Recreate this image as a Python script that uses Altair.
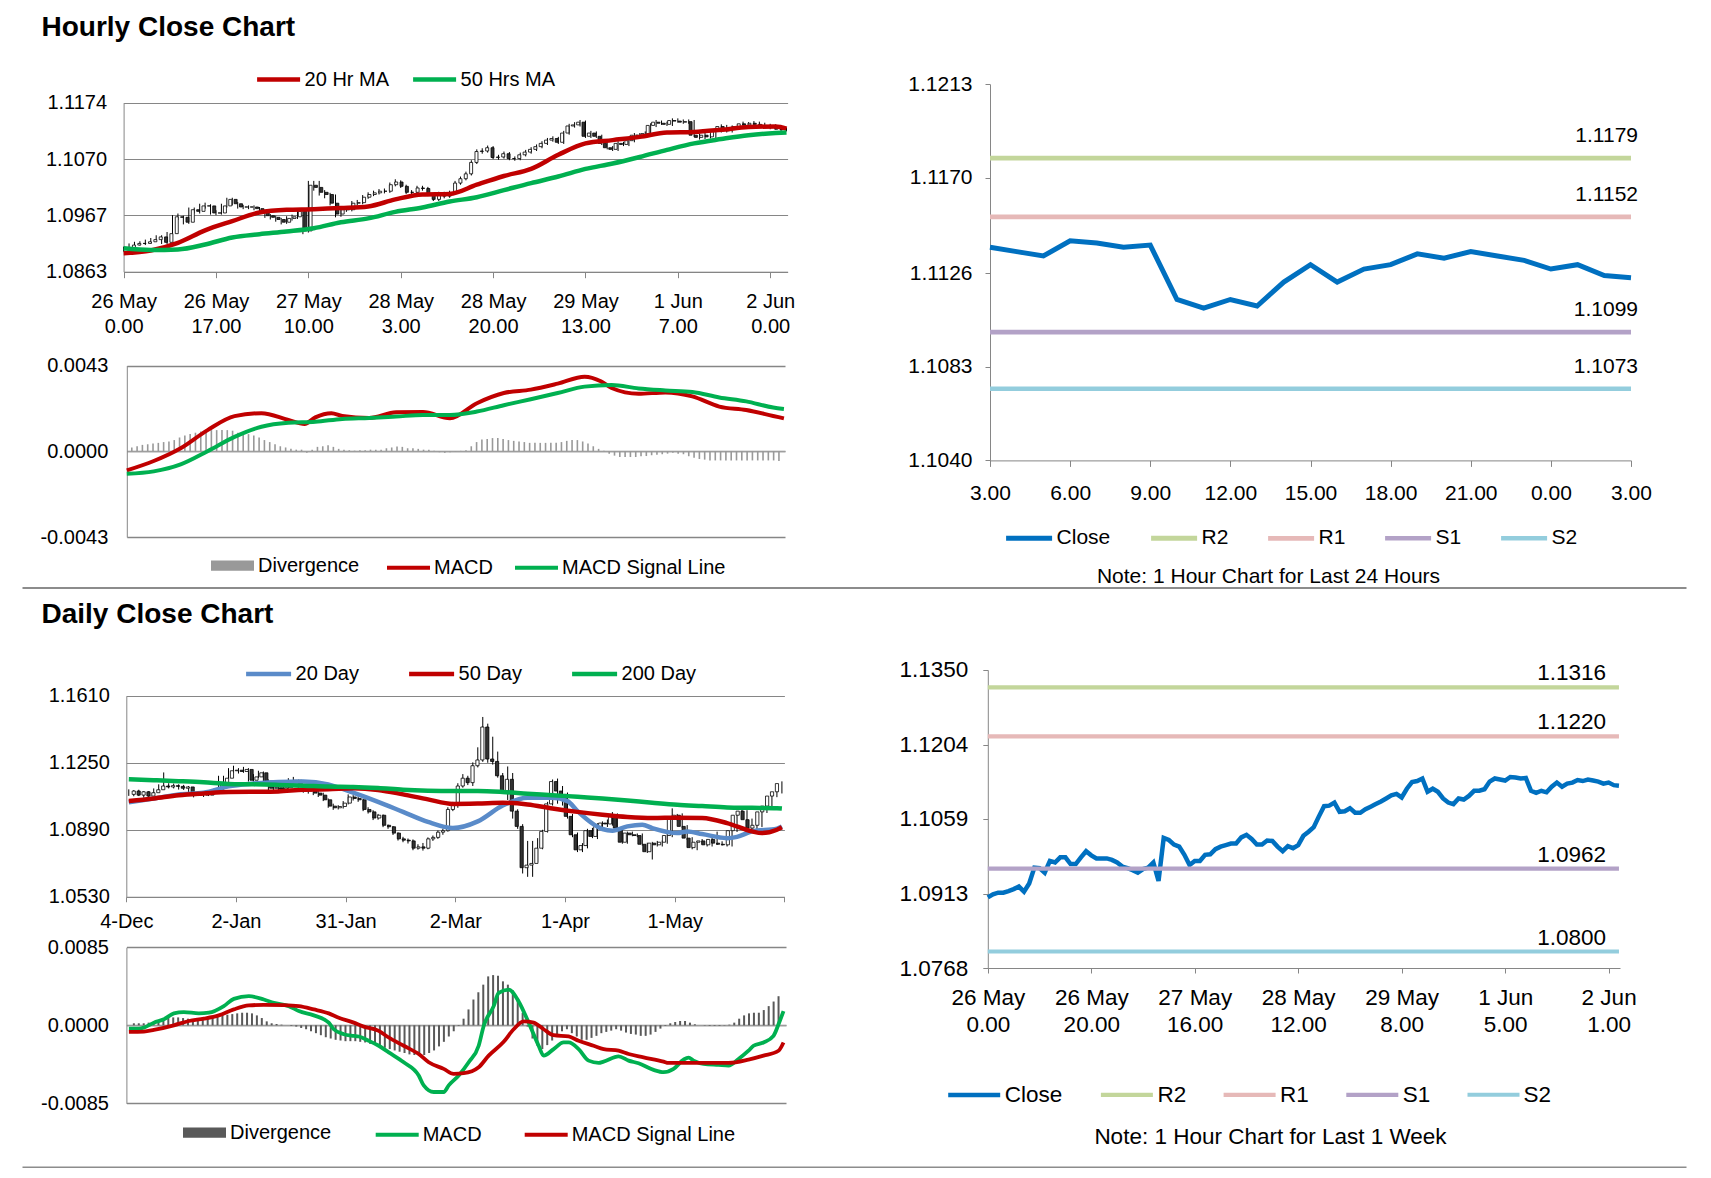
import json
import pandas as pd
import altair as alt

W, H = 1695, 1160
FONT = "Liberation Sans"
GRAY = "#868686"
RED = "#C00000"
GREEN = "#00B050"
BLUE20 = "#5A8BC9"
CLOSE_BLUE = "#0070C0"
LEVEL_COLORS = ["#C3D69B", "#E6B9B8", "#B3A2C7", "#93CDDD"]

# ---------------- hourly data (26 May 0.00 .. 2 Jun 3.00) ----------------
hourly_close = [1.0906, 1.0912, 1.0915, 1.0915, 1.0918, 1.0922, 1.0927, 1.0917, 1.0933, 1.0964,
 1.0963, 1.0954, 1.0977, 1.0974, 1.0984, 1.0984, 1.0971, 1.0971, 1.0984, 1.0996,
 1.0988, 1.0982, 1.0982, 1.0982, 1.0979, 1.0974, 1.0966, 1.0963, 1.0959, 1.0954,
 1.0961, 1.0964, 1.0974, 1.0938, 1.1022, 1.1018, 1.1009, 1.1005, 1.0989, 1.0969,
 1.0977, 1.0977, 1.0989, 1.0990, 1.1000, 1.1005, 1.1008, 1.1011, 1.1011, 1.1023,
 1.1028, 1.1020, 1.1009, 1.1009, 1.1017, 1.1016, 1.1005, 1.0996, 1.1006, 1.1002,
 1.1008, 1.1026, 1.1034, 1.1043, 1.1064, 1.1084, 1.1085, 1.1091, 1.1073, 1.1074,
 1.1080, 1.1071, 1.1071, 1.1078, 1.1083, 1.1088, 1.1093, 1.1099, 1.1105, 1.1108,
 1.1101, 1.1118, 1.1131, 1.1133, 1.1138, 1.1112, 1.1118, 1.1112, 1.1099, 1.1091,
 1.1088, 1.1099, 1.1097, 1.1104, 1.1114, 1.1114, 1.1117, 1.1132, 1.1138, 1.1136,
 1.1134, 1.1141, 1.1140, 1.1138, 1.1139, 1.1114, 1.1110, 1.1114, 1.1111, 1.1122,
 1.1130, 1.1122, 1.1128, 1.1130, 1.1135, 1.1133, 1.1136, 1.1134, 1.1132, 1.1128,
 1.1130, 1.1125, 1.1124]
hourly_open = [1.0903, 1.0906, 1.0912, 1.0915, 1.0915, 1.0918, 1.0922, 1.0927, 1.0917, 1.0933,
 1.0964, 1.0963, 1.0954, 1.0977, 1.0974, 1.0984, 1.0984, 1.0971, 1.0971, 1.0984,
 1.0996, 1.0988, 1.0982, 1.0982, 1.0982, 1.0979, 1.0974, 1.0966, 1.0963, 1.0959,
 1.0954, 1.0961, 1.0964, 1.0974, 1.0938, 1.1022, 1.1018, 1.1009, 1.1005, 1.0989,
 1.0969, 1.0977, 1.0977, 1.0989, 1.0990, 1.1000, 1.1005, 1.1008, 1.1011, 1.1011,
 1.1023, 1.1028, 1.1020, 1.1009, 1.1009, 1.1017, 1.1016, 1.1005, 1.0996, 1.1006,
 1.1002, 1.1008, 1.1026, 1.1034, 1.1043, 1.1064, 1.1084, 1.1085, 1.1091, 1.1073,
 1.1074, 1.1080, 1.1071, 1.1071, 1.1078, 1.1083, 1.1088, 1.1093, 1.1099, 1.1105,
 1.1108, 1.1101, 1.1118, 1.1131, 1.1133, 1.1138, 1.1112, 1.1118, 1.1112, 1.1099,
 1.1091, 1.1088, 1.1099, 1.1097, 1.1104, 1.1114, 1.1114, 1.1117, 1.1132, 1.1138,
 1.1136, 1.1134, 1.1141, 1.1140, 1.1138, 1.1139, 1.1114, 1.1110, 1.1114, 1.1111,
 1.1122, 1.1130, 1.1122, 1.1128, 1.1130, 1.1135, 1.1133, 1.1136, 1.1134, 1.1132,
 1.1128, 1.1130, 1.1125]
hourly_high = [1.0909, 1.0915, 1.0918, 1.0919, 1.0922, 1.0925, 1.0930, 1.0930, 1.0936, 1.0967,
 1.0970, 1.0966, 1.0981, 1.0981, 1.0988, 1.0990, 1.0987, 1.0976, 1.0988, 1.0999,
 1.0999, 1.0991, 1.0986, 1.0985, 1.0985, 1.0982, 1.0977, 1.0969, 1.0966, 1.0962,
 1.0965, 1.0968, 1.0978, 1.0977, 1.1030, 1.1030, 1.1030, 1.1013, 1.1008, 1.1005,
 1.0981, 1.0982, 1.0993, 1.0995, 1.1004, 1.1009, 1.1012, 1.1015, 1.1016, 1.1027,
 1.1033, 1.1031, 1.1023, 1.1013, 1.1021, 1.1021, 1.1019, 1.1008, 1.1010, 1.1010,
 1.1012, 1.1030, 1.1038, 1.1047, 1.1068, 1.1088, 1.1090, 1.1095, 1.1094, 1.1078,
 1.1084, 1.1083, 1.1075, 1.1082, 1.1087, 1.1092, 1.1097, 1.1103, 1.1109, 1.1112,
 1.1111, 1.1122, 1.1135, 1.1138, 1.1142, 1.1141, 1.1122, 1.1121, 1.1115, 1.1102,
 1.1094, 1.1103, 1.1102, 1.1108, 1.1118, 1.1118, 1.1121, 1.1136, 1.1142, 1.1141,
 1.1139, 1.1145, 1.1145, 1.1143, 1.1143, 1.1142, 1.1117, 1.1118, 1.1117, 1.1126,
 1.1134, 1.1133, 1.1132, 1.1134, 1.1139, 1.1138, 1.1140, 1.1139, 1.1137, 1.1135,
 1.1134, 1.1133, 1.1128]
hourly_low = [1.0900, 1.0903, 1.0909, 1.0911, 1.0912, 1.0915, 1.0919, 1.0914, 1.0914, 1.0930,
 1.0958, 1.0950, 1.0951, 1.0970, 1.0970, 1.0979, 1.0968, 1.0967, 1.0968, 1.0981,
 1.0985, 1.0979, 1.0978, 1.0978, 1.0976, 1.0971, 1.0962, 1.0959, 1.0955, 1.0950,
 1.0951, 1.0957, 1.0960, 1.0932, 1.0935, 1.1012, 1.1003, 1.0998, 1.0985, 1.0963,
 1.0964, 1.0973, 1.0974, 1.0985, 1.0987, 1.0997, 1.1002, 1.1005, 1.1007, 1.1008,
 1.1020, 1.1017, 1.1006, 1.1005, 1.1006, 1.1012, 1.1002, 1.0993, 1.0993, 1.0998,
 1.0999, 1.1005, 1.1023, 1.1031, 1.1040, 1.1061, 1.1080, 1.1082, 1.1070, 1.1069,
 1.1071, 1.1068, 1.1067, 1.1068, 1.1075, 1.1080, 1.1085, 1.1090, 1.1096, 1.1102,
 1.1098, 1.1098, 1.1115, 1.1128, 1.1130, 1.1109, 1.1109, 1.1109, 1.1096, 1.1088,
 1.1085, 1.1085, 1.1094, 1.1094, 1.1101, 1.1110, 1.1111, 1.1114, 1.1129, 1.1133,
 1.1131, 1.1131, 1.1137, 1.1135, 1.1135, 1.1111, 1.1106, 1.1107, 1.1108, 1.1108,
 1.1119, 1.1119, 1.1119, 1.1125, 1.1127, 1.1130, 1.1130, 1.1131, 1.1129, 1.1125,
 1.1125, 1.1122, 1.1121]

ma_hr_idx = [0, 5, 10, 15, 20, 25, 30, 35, 40, 45, 50, 55, 60, 65, 70, 75, 80, 85, 90, 95,
             100, 105, 110, 115, 120, 122]
ma20_hr = [1.0897, 1.0902, 1.0916, 1.0939, 1.0956, 1.0972, 1.0977, 1.0978, 1.0980, 1.0983,
           1.0996, 1.1005, 1.1006, 1.1023, 1.1039, 1.1052, 1.1078, 1.1099, 1.1105, 1.1111,
           1.1119, 1.1120, 1.1124, 1.1129, 1.1130, 1.1126]
ma50_hr = [1.0906, 1.0903, 1.0904, 1.0913, 1.0926, 1.0932, 1.0937, 1.0943, 1.0954, 1.0961,
           1.0973, 1.0981, 1.0992, 1.1000, 1.1013, 1.1026, 1.1038, 1.1052, 1.1062, 1.1074,
           1.1087, 1.1099, 1.1107, 1.1114, 1.1118, 1.1119]

macd_hr_idx = [0, 5, 10, 15, 20, 25, 30, 33, 35, 38, 40, 45, 50, 55, 60, 65, 70, 75, 80, 85,
               88, 90, 95, 100, 105, 110, 115, 120, 122]
macd_hr = [-0.00096, -0.00049, 0.00015, 0.00106, 0.00176, 0.00191, 0.00157, 0.00137, 0.00170, 0.00191,
           0.00177, 0.00167, 0.00196, 0.00197, 0.00165, 0.00241, 0.00292, 0.00309, 0.00339, 0.00374,
           0.00351, 0.00317, 0.00288, 0.00295, 0.00275, 0.00224, 0.00207, 0.00177, 0.00165]
signal_hr_idx = [0, 5, 10, 15, 20, 25, 30, 35, 40, 45, 50, 55, 60, 65, 70, 75, 80, 85, 90, 95,
                 100, 105, 110, 115, 120, 122]
signal_hr = [-0.00113, -0.00101, -0.00066, 0.0, 0.00072, 0.00123, 0.00143, 0.00148, 0.00162, 0.00167,
             0.00174, 0.00182, 0.00182, 0.00199, 0.00231, 0.00261, 0.00292, 0.00324, 0.00332, 0.00315,
             0.00305, 0.00297, 0.00270, 0.00250, 0.00219, 0.00212]
div_hr = [0.00019, 0.00025, 0.00032, 0.00035, 0.00039, 0.00042, 0.00046, 0.00049, 0.00056, 0.00069,
          0.00079, 0.00086, 0.00093, 0.00099, 0.00106, 0.00106, 0.00106, 0.00106, 0.00106, 0.00103,
          0.00093, 0.00093, 0.00086, 0.00079, 0.00069, 0.00056, 0.00046, 0.00035, 0.00025, 0.00019,
          0.00012, 0.00008, 0.00008, -0.00008, 0.00008, 0.00022, 0.00025, 0.00030, 0.00022, 0.00012,
          0.00008, 0.00005, 0.00003, 0.00005, 0.00005, 0.00008, 0.00008, 0.00008, 0.00015, 0.00019,
          0.00024, 0.00022, 0.00015, 0.00015, 0.00012, 0.00008, 0.00008, 0.00002, -0.00005, -0.00008,
          -0.00005, -0.00002, 0.00002, 0.00005, 0.00025, 0.00046, 0.00059, 0.00062, 0.00066, 0.00066,
          0.00062, 0.00056, 0.00052, 0.00049, 0.00046, 0.00042, 0.00042, 0.00042, 0.00042, 0.00042,
          0.00042, 0.00046, 0.00052, 0.00056, 0.00056, 0.00049, 0.00039, 0.00025, 0.00012, 0.00002,
          -0.00012, -0.00022, -0.00029, -0.00029, -0.00029, -0.00029, -0.00025, -0.00024, -0.00020, -0.00017,
          -0.00015, -0.00012, -0.00008, -0.00012, -0.00015, -0.00025, -0.00032, -0.00039, -0.00042, -0.00046,
          -0.00046, -0.00046, -0.00046, -0.00046, -0.00046, -0.00046, -0.00046, -0.00046, -0.00046, -0.00046,
          -0.00046, -0.00046, -0.00049]

hr_tick_idx = [0, 17, 34, 51, 68, 85, 102, 119]
hr_tick_lab = [["26 May", "0.00"], ["26 May", "17.00"], ["27 May", "10.00"], ["28 May", "3.00"],
               ["28 May", "20.00"], ["29 May", "13.00"], ["1 Jun", "7.00"], ["2 Jun", "0.00"]]
wk_tick_idx = [0, 20, 40, 60, 80, 100, 120]
wk_tick_lab = [["26 May", "0.00"], ["26 May", "20.00"], ["27 May", "16.00"], ["28 May", "12.00"],
               ["29 May", "8.00"], ["1 Jun", "5.00"], ["2 Jun", "1.00"]]
d24_tick_idx = [0, 3, 6, 9, 12, 15, 18, 21, 24]
d24_tick_lab = ["3.00", "6.00", "9.00", "12.00", "15.00", "18.00", "21.00", "0.00", "3.00"]

level_names = ["R2", "R1", "S1", "S2"]
levels_24h = [1.1179, 1.1152, 1.1099, 1.1073]
levels_1wk = [1.1316, 1.1220, 1.0962, 1.0800]

# ---------------- daily data (4 Dec .. 2 Jun) ----------------
daily_open = [1.1080, 1.1098, 1.1076, 1.1094, 1.1071, 1.1089, 1.1105, 1.1125, 1.1120, 1.1127,
 1.1123, 1.1113, 1.1120, 1.1084, 1.1080, 1.1089, 1.1076, 1.1094, 1.1102, 1.1134,
 1.1167, 1.1207, 1.1210, 1.1203, 1.1214, 1.1156, 1.1174, 1.1196, 1.1152, 1.1113,
 1.1116, 1.1109, 1.1116, 1.1149, 1.1156, 1.1125, 1.1102, 1.1098, 1.1087, 1.1076,
 1.1051, 1.1017, 1.1008, 1.1015, 1.1033, 1.1066, 1.1058, 1.1051, 1.0999, 1.0986,
 1.0953, 1.0968, 1.0914, 1.0906, 1.0872, 1.0841, 1.0834, 1.0830, 1.0791, 1.0798,
 1.0791, 1.0841, 1.0849, 1.0877, 1.0885, 1.0999, 1.1022, 1.1125, 1.1167, 1.1143,
 1.1234, 1.1265, 1.1442, 1.1270, 1.1257, 1.1180, 1.1098, 1.1161, 1.0990, 1.0908,
 1.0686, 1.0700, 1.0709, 1.0791, 1.0881, 1.1029, 1.1149, 1.1098, 1.1080, 1.0962,
 1.0863, 1.0782, 1.0805, 1.0885, 1.0854, 1.0908, 1.0926, 1.0921, 1.0968, 1.0899,
 1.0823, 1.0872, 1.0863, 1.0859, 1.0812, 1.0772, 1.0818, 1.0809, 1.0823, 1.0859,
 1.0950, 1.0968, 1.0908, 1.0845, 1.0794, 1.0823, 1.0830, 1.0809, 1.0838, 1.0818,
 1.0812, 1.0809, 1.0885, 1.0968, 1.0990, 1.0944, 1.0899, 1.0914, 1.0986, 1.1017,
 1.1071, 1.1094]
daily_close = [1.1098, 1.1076, 1.1094, 1.1071, 1.1089, 1.1105, 1.1125, 1.1120, 1.1127, 1.1123,
 1.1113, 1.1120, 1.1084, 1.1080, 1.1089, 1.1076, 1.1094, 1.1102, 1.1134, 1.1167,
 1.1207, 1.1210, 1.1203, 1.1214, 1.1156, 1.1174, 1.1196, 1.1152, 1.1113, 1.1116,
 1.1109, 1.1116, 1.1149, 1.1156, 1.1125, 1.1102, 1.1098, 1.1087, 1.1076, 1.1051,
 1.1017, 1.1008, 1.1015, 1.1033, 1.1066, 1.1058, 1.1051, 1.0999, 1.0986, 1.0953,
 1.0968, 1.0914, 1.0906, 1.0872, 1.0841, 1.0834, 1.0830, 1.0791, 1.0798, 1.0791,
 1.0841, 1.0849, 1.0877, 1.0885, 1.0999, 1.1022, 1.1125, 1.1167, 1.1143, 1.1234,
 1.1265, 1.1442, 1.1270, 1.1257, 1.1180, 1.1098, 1.1161, 1.0990, 1.0908, 1.0686,
 1.0700, 1.0709, 1.0791, 1.0881, 1.1029, 1.1149, 1.1098, 1.1080, 1.0962, 1.0863,
 1.0782, 1.0805, 1.0885, 1.0854, 1.0908, 1.0926, 1.0921, 1.0968, 1.0899, 1.0823,
 1.0872, 1.0863, 1.0859, 1.0812, 1.0772, 1.0818, 1.0809, 1.0823, 1.0859, 1.0950,
 1.0968, 1.0908, 1.0845, 1.0794, 1.0823, 1.0830, 1.0809, 1.0838, 1.0818, 1.0812,
 1.0809, 1.0885, 1.0968, 1.0990, 1.0944, 1.0899, 1.0914, 1.0986, 1.1017, 1.1071,
 1.1094, 1.1138]
daily_high = [1.1107, 1.1103, 1.1105, 1.1098, 1.1098, 1.1112, 1.1134, 1.1198, 1.1140, 1.1138,
 1.1134, 1.1131, 1.1125, 1.1091, 1.1098, 1.1098, 1.1103, 1.1110, 1.1180, 1.1180,
 1.1221, 1.1234, 1.1221, 1.1228, 1.1221, 1.1189, 1.1207, 1.1203, 1.1160, 1.1127,
 1.1125, 1.1134, 1.1167, 1.1174, 1.1160, 1.1134, 1.1116, 1.1110, 1.1098, 1.1089,
 1.1058, 1.1030, 1.1022, 1.1044, 1.1080, 1.1076, 1.1069, 1.1058, 1.1011, 1.0995,
 1.0975, 1.0972, 1.0918, 1.0910, 1.0876, 1.0852, 1.0843, 1.0838, 1.0812, 1.0819,
 1.0849, 1.0859, 1.0886, 1.0896, 1.1011, 1.1040, 1.1140, 1.1189, 1.1180, 1.1252,
 1.1333, 1.1496, 1.1460, 1.1390, 1.1310, 1.1195, 1.1230, 1.1195, 1.1000, 1.0920,
 1.0830, 1.0830, 1.0845, 1.0890, 1.1040, 1.1160, 1.1165, 1.1125, 1.1090, 1.0975,
 1.0875, 1.0818, 1.0895, 1.0900, 1.0925, 1.0935, 1.0945, 1.0985, 1.0978, 1.0905,
 1.0880, 1.0880, 1.0870, 1.0870, 1.0820, 1.0825, 1.0830, 1.0832, 1.0865, 1.1005,
 1.0975, 1.0978, 1.0915, 1.0850, 1.0830, 1.0840, 1.0838, 1.0848, 1.0880, 1.0828,
 1.0822, 1.0890, 1.0978, 1.1005, 1.0995, 1.0950, 1.0925, 1.0995, 1.1030, 1.1085,
 1.1110, 1.1150]
daily_low = [1.1072, 1.1070, 1.1071, 1.1062, 1.1066, 1.1082, 1.1098, 1.1110, 1.1112, 1.1112,
 1.1106, 1.1104, 1.1076, 1.1064, 1.1071, 1.1066, 1.1071, 1.1087, 1.1098, 1.1127,
 1.1160, 1.1196, 1.1192, 1.1196, 1.1149, 1.1149, 1.1167, 1.1143, 1.1102, 1.1102,
 1.1102, 1.1105, 1.1110, 1.1134, 1.1116, 1.1089, 1.1084, 1.1076, 1.1066, 1.1044,
 1.1008, 1.0997, 1.0999, 1.1004, 1.1026, 1.1047, 1.1040, 1.0990, 1.0977, 1.0942,
 1.0944, 1.0904, 1.0895, 1.0862, 1.0832, 1.0823, 1.0816, 1.0780, 1.0783, 1.0778,
 1.0785, 1.0830, 1.0841, 1.0863, 1.0880, 1.0990, 1.1008, 1.1116, 1.1130, 1.1125,
 1.1225, 1.1255, 1.1250, 1.1240, 1.1170, 1.1085, 1.1050, 1.0950, 1.0895, 1.0655,
 1.0637, 1.0637, 1.0716, 1.0785, 1.0875, 1.1020, 1.1030, 1.1020, 1.0950, 1.0850,
 1.0770, 1.0770, 1.0790, 1.0845, 1.0840, 1.0900, 1.0905, 1.0912, 1.0890, 1.0815,
 1.0815, 1.0855, 1.0850, 1.0805, 1.0765, 1.0730, 1.0800, 1.0800, 1.0815, 1.0850,
 1.0940, 1.0900, 1.0835, 1.0785, 1.0780, 1.0815, 1.0800, 1.0800, 1.0808, 1.0805,
 1.0800, 1.0800, 1.0878, 1.0960, 1.0935, 1.0890, 1.0885, 1.0905, 1.0980, 1.1010,
 1.1065, 1.1085]

ma20_d_idx = [0, 5, 10, 15, 20, 25, 30, 35, 40, 45, 50, 55, 60, 65, 70, 75, 80, 85, 88, 90,
              95, 97, 100, 103, 105, 110, 112, 115, 120, 122, 125, 130, 131]
ma20_d = [1.1038, 1.1058, 1.1080, 1.1089, 1.1123, 1.1138, 1.1147, 1.1149, 1.1134, 1.1089,
          1.1040, 1.0986, 1.0932, 1.0899, 1.0935, 1.1020, 1.1062, 1.1062, 1.1044, 1.0990,
          1.0894, 1.0885, 1.0908, 1.0917, 1.0899, 1.0872, 1.0881, 1.0867, 1.0845, 1.0852,
          1.0881, 1.0896, 1.0908]
ma50_d_idx = [0, 5, 10, 15, 20, 25, 30, 35, 40, 45, 50, 55, 60, 65, 70, 75, 80, 85, 90, 95,
              100, 105, 110, 115, 120, 125, 127, 130, 131]
ma50_d = [1.1044, 1.1058, 1.1075, 1.1085, 1.1093, 1.1094, 1.1096, 1.1105, 1.1107, 1.1113,
          1.1104, 1.1080, 1.1053, 1.1029, 1.1031, 1.1035, 1.1026, 1.1004, 1.0986, 1.0971,
          1.0959, 1.0953, 1.0955, 1.0953, 1.0926, 1.0881, 1.0872, 1.0890, 1.0903]
ma200_d_idx = [0, 5, 10, 15, 20, 25, 30, 35, 40, 45, 50, 55, 60, 65, 70, 75, 80, 85, 90, 95,
               100, 105, 110, 115, 120, 125, 130, 131]
ma200_d = [1.1161, 1.1156, 1.1151, 1.1145, 1.1136, 1.1134, 1.1131, 1.1127, 1.1122, 1.1120,
           1.1114, 1.1105, 1.1100, 1.1098, 1.1098, 1.1093, 1.1084, 1.1076, 1.1067, 1.1058,
           1.1047, 1.1035, 1.1024, 1.1017, 1.1010, 1.1008, 1.1006, 1.1004]

macd_d_idx = [0, 2, 3, 5, 7, 9, 11, 14, 16, 19, 21, 24, 27, 29, 32, 34, 37, 40, 41, 43,
              45, 46, 48, 50, 52, 55, 58, 59, 61, 63, 64, 66, 68, 70, 71, 73, 74, 76, 78, 80,
              82, 83, 85, 87, 88, 90, 92, 94, 95, 98, 100, 102, 105, 107, 109, 111, 112, 113, 115, 118,
              120, 122, 124, 125, 127, 129, 130, 131]
macd_d = [-0.00036, -0.00036, -0.00025, 0.00029, 0.00065, 0.00130, 0.00144, 0.00130, 0.00137, 0.00209,
          0.00288, 0.00317, 0.00281, 0.00245, 0.00209, 0.00155, 0.00108, 0.00029, -0.00043, -0.00097,
          -0.00115, -0.00122, -0.00169, -0.00223, -0.00295, -0.00403, -0.00547, -0.00655, -0.00727, -0.00727,
          -0.00655, -0.00547, -0.00403, -0.00223, -0.00007, 0.00209, 0.00353, 0.00389, 0.00260, 0.00029,
          -0.00223, -0.00331, -0.00259, -0.00187, -0.00187, -0.00259, -0.00385, -0.00410, -0.00396, -0.00338,
          -0.00385, -0.00414, -0.00486, -0.00511, -0.00475, -0.00374, -0.00353, -0.00385, -0.00421, -0.00432,
          -0.00439, -0.00367, -0.00277, -0.00223, -0.00187, -0.00115, 0.00011, 0.00155]
signal_d_idx = [0, 3, 5, 9, 12, 15, 18, 21, 24, 27, 31, 34, 37, 40, 42, 45, 47, 50, 52, 55,
                58, 60, 63, 65, 67, 70, 72, 75, 77, 79, 81, 83, 85, 88, 90, 93, 95, 98, 100, 103,
                107, 108, 112, 117, 120, 124, 127, 130, 131]
signal_d = [-0.00072, -0.00068, -0.00050, 0.0, 0.00047, 0.00072, 0.00108, 0.00173, 0.00216, 0.00223,
            0.00220, 0.00209, 0.00173, 0.00130, 0.00083, 0.00029, -0.00014, -0.00061, -0.00133, -0.00223,
            -0.00313, -0.00403, -0.00475, -0.00529, -0.00522, -0.00457, -0.00331, -0.00180, -0.00043, 0.00043,
            0.00029, -0.00043, -0.00108, -0.00122, -0.00169, -0.00223, -0.00259, -0.00277, -0.00313, -0.00349,
            -0.00396, -0.00410, -0.00410, -0.00410, -0.00410, -0.00374, -0.00331, -0.00277, -0.00187]
div_d = [0.00022, 0.00022, 0.00022, 0.00029, 0.00036, 0.00050, 0.00065, 0.00079, 0.00086, 0.00086,
         0.00079, 0.00072, 0.00065, 0.00065, 0.00072, 0.00079, 0.00094, 0.00108, 0.00115, 0.00115,
         0.00122, 0.00130, 0.00137, 0.00137, 0.00130, 0.00108, 0.00079, 0.00043, 0.00022, 0.00014,
         0.00007, 0.0, -0.00007, -0.00014, -0.00029, -0.00043, -0.00065, -0.00086, -0.00108, -0.00130,
         -0.00144, -0.00158, -0.00166, -0.00173, -0.00173, -0.00173, -0.00180, -0.00187, -0.00202, -0.00216,
         -0.00230, -0.00245, -0.00259, -0.00274, -0.00288, -0.00302, -0.00317, -0.00324, -0.00331, -0.00324,
         -0.00302, -0.00274, -0.00230, -0.00180, -0.00122, -0.00065, -0.00007, 0.00072, 0.00173, 0.00281,
         0.00360, 0.00443, 0.00533, 0.00547, 0.00540, 0.00479, 0.00443, 0.00382, 0.00288, 0.00137,
         -0.00014, -0.00144, -0.00223, -0.00259, -0.00216, -0.00166, -0.00108, -0.00065, -0.00043, -0.00086,
         -0.00122, -0.00158, -0.00158, -0.00137, -0.00115, -0.00086, -0.00072, -0.00058, -0.00043, -0.00058,
         -0.00079, -0.00094, -0.00101, -0.00115, -0.00115, -0.00101, -0.00072, -0.00036, -0.00007, 0.00022,
         0.00036, 0.00047, 0.00047, 0.00029, 0.00011, 0.0, -0.00004, -0.00007, -0.00007, -0.00007,
         -0.00004, 0.00007, 0.00029, 0.00072, 0.00108, 0.00130, 0.00137, 0.00137, 0.00166, 0.00209,
         0.00259, 0.00317]

d_tick_pos = [-0.5, 21.5, 43.5, 65.5, 87.5, 109.5, 131.5]
d_tick_lab = ["4-Dec", "2-Jan", "31-Jan", "2-Mar", "1-Apr", "1-May", ""]

# ---------------- helpers ----------------
def lab_expr(ticks, labels):
    return f"{json.dumps(labels)}[indexof({json.dumps(ticks)}, datum.value)]"

NEG_EXPR = "datum.value < 0 ? '-' + format(-datum.value, '.4f') : format(datum.value, '.4f')"


def sc(domain, rng):
    return alt.Scale(domain=domain, range=rng, nice=False, zero=False)


def long_df(series):
    rows = []
    for name, idxs, vals in series:
        for i, v in zip(idxs, vals):
            rows.append({"i": i, "v": v, "s": name})
    return pd.DataFrame(rows)


def ax_common(size):
    return dict(domainColor=GRAY, tickColor=GRAY, gridColor=GRAY, labelColor="black",
                labelFontSize=size, labelFlush=False, labelOverlap=False, labelFont=FONT)


def stroke_legend(x, y, sym_w, sw, fs, pad):
    return alt.Legend(orient="none", legendX=x, legendY=y - sym_w / 2, direction="horizontal",
                      title=None, symbolType="stroke", symbolSize=sym_w ** 2, symbolStrokeWidth=sw,
                      labelFontSize=fs, labelOffset=2, columnPadding=pad, labelColor="black",
                      labelFont=FONT, padding=0, labelLimit=0)


def rect_legend(x, y, sym_w, fs):
    return alt.Legend(orient="none", legendX=x, legendY=y - sym_w / 2, direction="horizontal",
                      title=None, symbolType="M-1,-0.24H1V0.24H-1Z", symbolSize=sym_w ** 2,
                      symbolStrokeWidth=0, labelFontSize=fs, labelOffset=4, labelColor="black",
                      labelFont=FONT, padding=0, labelLimit=0)


layers = []

# ================= Hourly candles (top-left) =================
xs = sc([0, 122.2], [115.6, 779.6])
ys = sc([1.0863, 1.1174], [263.7, 94.6])
df_hc = pd.DataFrame({"i": list(range(len(hourly_close))), "open": hourly_open, "high": hourly_high,
                      "low": hourly_low, "close": hourly_close})
x_axis = alt.Axis(orient="bottom", offset=263.7 - H, values=hr_tick_idx,
                  labelExpr=lab_expr(hr_tick_idx, hr_tick_lab), tickSize=6, labelPadding=14,
                  labelLineHeight=24.6, grid=False,
                  title="Hourly Close Chart", titleX=33, titleY=27 - 263.7, titleAlign="left",
                  titleBaseline="alphabetic", titleFontSize=28, titleFontWeight="bold",
                  titleColor="black", titleFont=FONT, **ax_common(20))
y_axis = alt.Axis(orient="left", offset=-115.6, values=[1.0863, 1.0967, 1.1070, 1.1174], format=".4f",
                  grid=True, gridWidth=1, ticks=False, labelPadding=17, title=None, **ax_common(20))
layers.append(alt.Chart(df_hc).mark_rule(color="black", strokeWidth=1).encode(
    x=alt.X("i:Q", scale=xs, axis=x_axis), y=alt.Y("low:Q", scale=ys, axis=y_axis), y2="high:Q"))
layers.append(alt.Chart(df_hc).mark_bar(size=3, stroke="black", strokeWidth=0.8).encode(
    x=alt.X("i:Q", scale=xs, axis=None), y=alt.Y("open:Q", scale=ys, axis=None), y2="close:Q",
    fill=alt.condition("datum.close >= datum.open", alt.value("white"), alt.value("#333333"))))
df_mahr = long_df([("20 Hr MA", ma_hr_idx, ma20_hr), ("50 Hrs MA", ma_hr_idx, ma50_hr)])
layers.append(alt.Chart(df_mahr).mark_line(strokeWidth=4.5, interpolate="monotone").encode(
    x=alt.X("i:Q", scale=xs, axis=None), y=alt.Y("v:Q", scale=ys, axis=None),
    color=alt.Color("s:N", scale=alt.Scale(domain=["20 Hr MA", "50 Hrs MA"], range=[RED, GREEN]),
                    legend=stroke_legend(246.6, 69, 43, 4.5, 20, 14))))

# ================= Hourly MACD =================
xs = sc([0, 122.2], [118.8, 777])
ys = sc([-0.0043, 0.0043], [529, 357.5])
df_dh = pd.DataFrame({"i": list(range(len(div_hr))), "v": div_hr, "z": 0.0, "s": "Divergence"})
layers.append(alt.Chart(df_dh).mark_bar(size=1.6).encode(
    x=alt.X("i:Q", scale=xs, axis=alt.Axis(orient="bottom", offset=443.25 - H, labels=False, ticks=False,
                                           grid=False, domainColor="#a6a6a6", title=None)),
    y=alt.Y("v:Q", scale=ys, axis=alt.Axis(orient="left", offset=-118.8, values=[-0.0043, 0, 0.0043],
                                           labelExpr=NEG_EXPR, grid=True, gridWidth=1.5, ticks=False,
                                           labelPadding=19, title=None, **ax_common(20))),
    y2="z:Q",
    fill=alt.Fill("s:N", scale=alt.Scale(domain=["Divergence"], range=["#999999"]),
                  legend=rect_legend(203, 557.6, 43, 20))))
df_mh = long_df([("MACD", macd_hr_idx, macd_hr), ("MACD Signal Line", signal_hr_idx, signal_hr)])
layers.append(alt.Chart(df_mh).mark_line(strokeWidth=4, interpolate="monotone").encode(
    x=alt.X("i:Q", scale=xs, axis=None), y=alt.Y("v:Q", scale=ys, axis=None),
    color=alt.Color("s:N", scale=alt.Scale(domain=["MACD", "MACD Signal Line"], range=[RED, GREEN]),
                    legend=stroke_legend(377, 557.6, 43, 4, 20, 14))))

# ================= Last 24 hours (top-right) =================
xs = sc([0, 24], [982, 1623])
ys = sc([1.1040, 1.1213], [452.4, 76.2])
close24 = hourly_close[98:]
rows = [{"i": i, "v": v, "s": "Close"} for i, v in enumerate(close24)]
for n, lv in zip(level_names, levels_24h):
    rows += [{"i": 0, "v": lv, "s": n}, {"i": 24, "v": lv, "s": n}]
df_24 = pd.DataFrame(rows)
names = ["Close"] + level_names
layers.append(alt.Chart(df_24).mark_line().encode(
    x=alt.X("i:Q", scale=xs, axis=alt.Axis(orient="bottom", offset=452.4 - H, values=d24_tick_idx,
                                           labelExpr=lab_expr(d24_tick_idx, d24_tick_lab), tickSize=6,
                                           labelPadding=16, grid=False,
                                           title="Note: 1 Hour Chart for Last 24 Hours", titleX=1260,
                                           titleY=115.6, titleAlign="center", titleBaseline="middle",
                                           titleFontSize=21, titleFontWeight="normal", titleColor="black",
                                           titleFont=FONT, **ax_common(21))),
    y=alt.Y("v:Q", scale=ys, axis=alt.Axis(orient="left", offset=-982,
                                           values=[1.1040, 1.1083, 1.1126, 1.1170, 1.1213], format=".4f",
                                           tickSize=5, labelPadding=13, grid=False, title=None,
                                           **ax_common(21))),
    color=alt.Color("s:N", scale=alt.Scale(domain=names, range=[CLOSE_BLUE] + LEVEL_COLORS),
                    legend=stroke_legend(995.6, 527.5, 46, 5, 21, 30)),
    strokeWidth=alt.StrokeWidth("s:N", scale=alt.Scale(domain=names, range=[5, 4.5, 4.5, 4.5, 4.5]),
                                legend=None)))
df_24t = pd.DataFrame({"i": [24] * 4, "v": levels_24h, "t": [f"{v:.4f}" for v in levels_24h]})
layers.append(alt.Chart(df_24t).mark_text(align="right", baseline="middle", dx=7, dy=-22, fontSize=21,
                                          color="black", font=FONT).encode(
    x=alt.X("i:Q", scale=xs, axis=None), y=alt.Y("v:Q", scale=ys, axis=None), text="t:N"))

# ================= Daily candles (bottom-left) =================
xs = sc([-0.5, 131.5], [118.3, 776.4])
ys = sc([1.0530, 1.1610], [888.75, 687.75])
df_dc = pd.DataFrame({"i": list(range(len(daily_close))), "open": daily_open, "high": daily_high,
                      "low": daily_low, "close": daily_close})
x_axis = alt.Axis(orient="bottom", offset=888.75 - H, values=d_tick_pos,
                  labelExpr=lab_expr(d_tick_pos, d_tick_lab), tickSize=5, labelPadding=10, grid=False,
                  title="Daily Close Chart", titleX=33, titleY=614 - 888.75, titleAlign="left",
                  titleBaseline="alphabetic", titleFontSize=28, titleFontWeight="bold",
                  titleColor="black", titleFont=FONT, **ax_common(20))
y_axis = alt.Axis(orient="left", offset=-118.3, values=[1.0530, 1.0890, 1.1250, 1.1610], format=".4f",
                  grid=True, gridWidth=1, ticks=False, labelPadding=17, title=None, **ax_common(20))
layers.append(alt.Chart(df_dc).mark_rule(color="black", strokeWidth=1).encode(
    x=alt.X("i:Q", scale=xs, axis=x_axis), y=alt.Y("low:Q", scale=ys, axis=y_axis), y2="high:Q"))
layers.append(alt.Chart(df_dc).mark_bar(size=3.2, stroke="black", strokeWidth=0.8).encode(
    x=alt.X("i:Q", scale=xs, axis=None), y=alt.Y("open:Q", scale=ys, axis=None), y2="close:Q",
    fill=alt.condition("datum.close >= datum.open", alt.value("white"), alt.value("#333333"))))
df_mad = long_df([("20 Day", ma20_d_idx, ma20_d), ("50 Day", ma50_d_idx, ma50_d),
                  ("200 Day", ma200_d_idx, ma200_d)])
layers.append(alt.Chart(df_mad).mark_line(strokeWidth=4.5, interpolate="monotone").encode(
    x=alt.X("i:Q", scale=xs, axis=None), y=alt.Y("v:Q", scale=ys, axis=None),
    color=alt.Color("s:N", scale=alt.Scale(domain=["20 Day", "50 Day", "200 Day"],
                                           range=[BLUE20, RED, GREEN]),
                    legend=stroke_legend(235.6, 663.4, 45, 4.5, 20, 40))))

# ================= Daily MACD =================
xs = sc([-0.5, 131.5], [118.4, 778])
ys = sc([-0.0085, 0.0085], [1095.3, 939.3])
df_dd = pd.DataFrame({"i": list(range(len(div_d))), "v": div_d, "z": 0.0, "s": "Divergence"})
layers.append(alt.Chart(df_dd).mark_bar(size=2).encode(
    x=alt.X("i:Q", scale=xs, axis=alt.Axis(orient="bottom", offset=1017.3 - H, labels=False, ticks=False,
                                           grid=False, domainColor="#a6a6a6", title=None)),
    y=alt.Y("v:Q", scale=ys, axis=alt.Axis(orient="left", offset=-118.4, values=[-0.0085, 0, 0.0085],
                                           labelExpr=NEG_EXPR, grid=True, gridWidth=1.5, ticks=False,
                                           labelPadding=18, title=None, **ax_common(20))),
    y2="z:Q",
    fill=alt.Fill("s:N", scale=alt.Scale(domain=["Divergence"], range=["#595959"]),
                  legend=rect_legend(175, 1124.6, 43, 20))))
df_md = long_df([("MACD", macd_d_idx, macd_d), ("MACD Signal Line", signal_d_idx, signal_d)])
layers.append(alt.Chart(df_md).mark_line(strokeWidth=3.8, interpolate="monotone").encode(
    x=alt.X("i:Q", scale=xs, axis=None), y=alt.Y("v:Q", scale=ys, axis=None),
    color=alt.Color("s:N", scale=alt.Scale(domain=["MACD", "MACD Signal Line"], range=[GREEN, RED]),
                    legend=stroke_legend(365.7, 1124.6, 43, 4, 20, 35))))

# ================= Last 1 week (bottom-right) =================
xs = sc([0, 122.2], [979.8, 1612])
ys = sc([1.0768, 1.1350], [960, 661.9])
last = len(hourly_close) - 1
rows = [{"i": i, "v": v, "s": "Close"} for i, v in enumerate(hourly_close)]
for n, lv in zip(level_names, levels_1wk):
    rows += [{"i": 0, "v": lv, "s": n}, {"i": last, "v": lv, "s": n}]
df_wk = pd.DataFrame(rows)
layers.append(alt.Chart(df_wk).mark_line().encode(
    x=alt.X("i:Q", scale=xs, axis=alt.Axis(orient="bottom", offset=960 - H, values=wk_tick_idx,
                                           labelExpr=lab_expr(wk_tick_idx, wk_tick_lab), tickSize=5,
                                           labelPadding=13.5, labelLineHeight=27, grid=False,
                                           title="Note: 1 Hour Chart for Last 1 Week", titleX=1262,
                                           titleY=168.75, titleAlign="center", titleBaseline="middle",
                                           titleFontSize=22.5, titleFontWeight="normal", titleColor="black",
                                           titleFont=FONT, **ax_common(22.5))),
    y=alt.Y("v:Q", scale=ys, axis=alt.Axis(orient="left", offset=-979.8,
                                           values=[1.0768, 1.0913, 1.1059, 1.1204, 1.1350], format=".4f",
                                           tickSize=5, labelPadding=15, grid=False, title=None,
                                           **ax_common(22.5))),
    color=alt.Color("s:N", scale=alt.Scale(domain=names, range=[CLOSE_BLUE] + LEVEL_COLORS),
                    legend=stroke_legend(937.7, 1084.4, 52, 4.5, 22.5, 28.7)),
    strokeWidth=alt.StrokeWidth("s:N", scale=alt.Scale(domain=names, range=[4.5, 4, 4, 4, 4]),
                                legend=None)))
df_wkt = pd.DataFrame({"i": [last] * 4, "v": levels_1wk, "t": [f"{v:.4f}" for v in levels_1wk]})
layers.append(alt.Chart(df_wkt).mark_text(align="right", baseline="middle", dx=-13, dy=-14,
                                          fontSize=22.5, color="black", font=FONT).encode(
    x=alt.X("i:Q", scale=xs, axis=None), y=alt.Y("v:Q", scale=ys, axis=None), text="t:N"))

# ================= separator lines =================
for ypos in (579.5, H - 1):
    layers.append(alt.Chart(pd.DataFrame({"u": [0.5]})).mark_point(opacity=0).encode(
        x=alt.X("u:Q", scale=sc([0, 1], [14, 1678]),
                axis=alt.Axis(orient="bottom", offset=ypos - H, labels=False, ticks=False, grid=False,
                              domainColor="#8c8c8c", domainWidth=2, title=None))))

chart = alt.layer(*layers).resolve_scale(
    x="independent", y="independent", color="independent", fill="independent", strokeWidth="independent"
).resolve_axis(x="independent", y="independent").resolve_legend(
    color="independent", fill="independent"
).properties(
    width=W, height=H, padding=0, autosize=alt.AutoSizeParams(type="none"), background="white"
).configure(font=FONT).configure_view(stroke=None)

chart.save("out.html", embed_options={"renderer": "svg", "actions": False})
